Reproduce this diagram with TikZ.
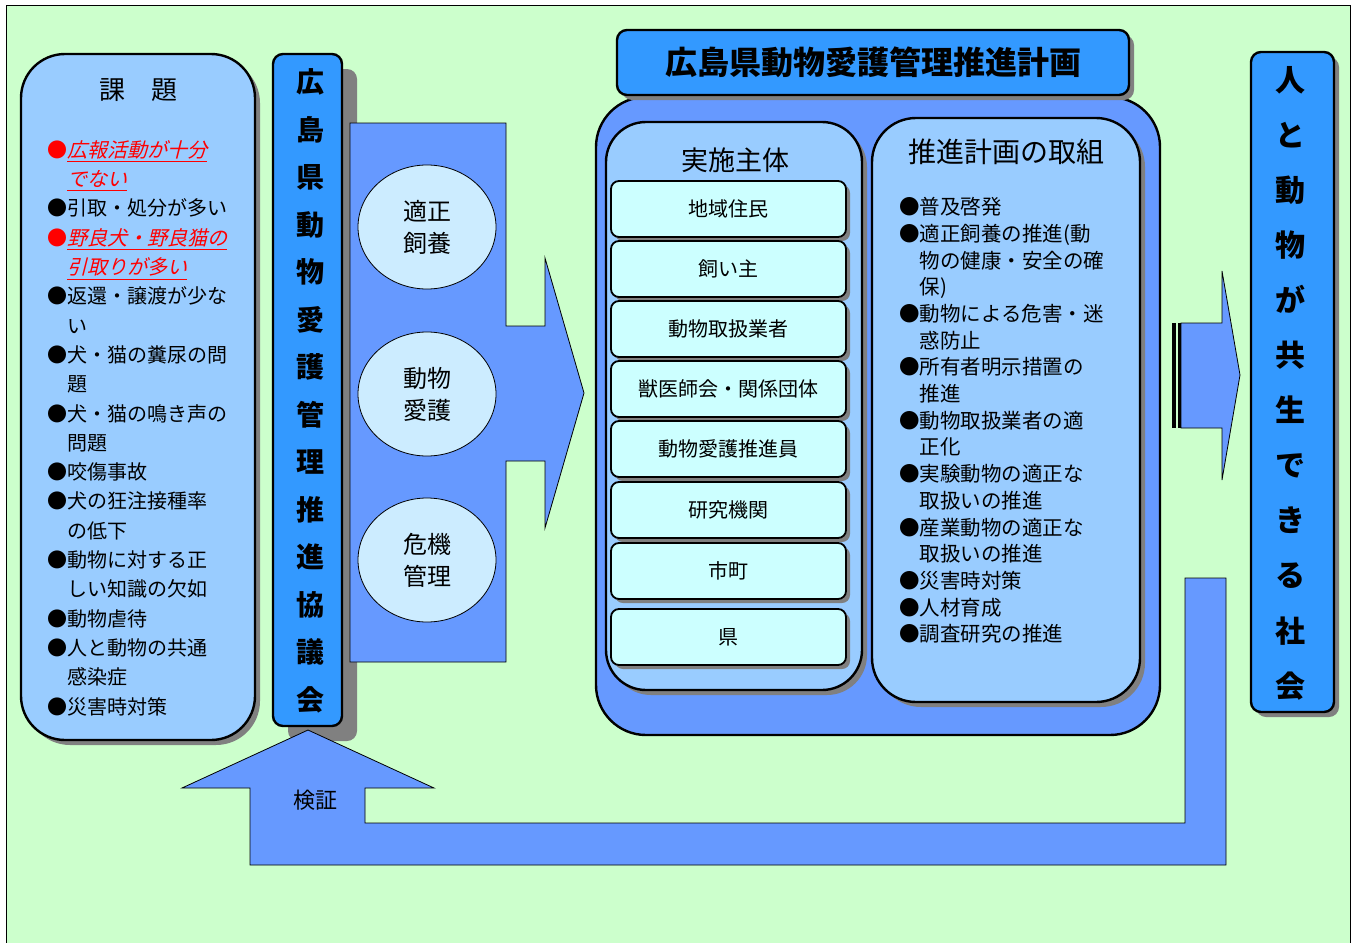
\documentclass[tikz,border=0pt]{standalone}
\usepackage{fontspec}
\setmainfont{Noto Sans CJK JP}
\newfontfamily\slantjp{Noto Sans CJK JP}[FakeSlant=0.25]
\usetikzlibrary{shadows,shapes.geometric}
\definecolor{bggreen}{HTML}{CCFFCC}
\definecolor{paleblue}{HTML}{99CCFF}
\definecolor{midblue}{HTML}{6699FF}
\definecolor{deepblue}{HTML}{3399FF}
\definecolor{ovalfill}{HTML}{CCECFF}
\definecolor{itemfill}{HTML}{CCFFFF}

\begin{document}
\begin{tikzpicture}[x=0.5pt, y=-0.5pt,
  shade/.style={drop shadow={shadow xshift=#1, shadow yshift=-#1, fill=gray, opacity=1}},
  panel/.style={draw, line width=1.2pt, fill=paleblue, rounded corners=21pt, shade=2.5pt},
  pillar/.style={draw, line width=1.2pt, fill=deepblue, rounded corners=5pt},
  oval/.style={draw, ellipse, fill=ovalfill, align=center, inner sep=0pt,
    minimum width=69pt, minimum height=62pt, font=\fontsize{12}{16}\selectfont},
  itembox/.style={draw, line width=0.9pt, fill=itemfill, rounded corners=4pt, shade=2pt,
    minimum width=117.5pt, minimum height=28pt, font=\fontsize{10}{12}\selectfont},
  bigarrow/.style={draw, fill=midblue, line join=miter},
  listtext/.style={align=left, inner sep=0pt, anchor=north west},
  title/.style={font=\fontsize{13}{15}\selectfont}]
\useasboundingbox (0,0) rectangle (1354,942);
\fill[white] (0,0) rectangle (1354,942);
\draw[fill=bggreen] (6,5) rectangle (1350,960);

% 課題
\node[panel, rounded corners=22pt, minimum width=117pt, minimum height=343pt] (kadaiBox) at (138,397) {};
\node[title] (kadaiTitle) at (138,90) {課　題};
\node[listtext, font=\fontsize{10}{14.65}\selectfont] (kadaiList) at (47,140) {%
{\color{red}●\slantjp\underline{広報活動が十分}}\\
{\color{red}\phantom{●}\slantjp\underline{でない}}\\
●引取・処分が多い\\
{\color{red}●\slantjp\underline{野良犬・野良猫の}}\\
{\color{red}\phantom{●}\slantjp\underline{引取りが多い}}\\
●返還・譲渡が少な\\
\phantom{●}い\\
●犬・猫の糞尿の問\\
\phantom{●}題\\
●犬・猫の鳴き声の\\
\phantom{●}問題\\
●咬傷事故\\
●犬の狂注接種率\\
\phantom{●}の低下\\
●動物に対する正\\
\phantom{●}しい知識の欠如\\
●動物虐待\\
●人と動物の共通\\
\phantom{●}感染症\\
●災害時対策};

% 協議会
\node[pillar, shade=7.5pt, minimum width=34.5pt, minimum height=336pt] (kyogikaiBox) at (307.5,390) {};
\node[align=center, font=\fontsize{14}{23.75}\bfseries] (kyogikai) at (310,391)
  {広\\島\\県\\動\\物\\愛\\護\\管\\理\\推\\進\\協\\議\\会};

% 三本柱の矢印
\draw[bigarrow] (350,123) -- (506,123) -- (506,326) -- (545,326) -- (545,258) -- (584,393)
  -- (545,528) -- (545,461) -- (506,461) -- (506,662) -- (350,662) -- cycle;
\node[oval] (tekisei) at (427,227) {適正\\飼養};
\node[oval] (aigo) at (427,394) {動物\\愛護};
\node[oval] (kiki) at (427,560) {危機\\管理};

% 推進計画
\node[draw, line width=1.2pt, fill=midblue, rounded corners=25pt, minimum width=282pt, minimum height=319pt] (planBox) at (878,416) {};
\node[pillar, shade=2.5pt, minimum width=256pt, minimum height=32.5pt,
  font=\fontsize{16}{18}\bfseries] (planTitle) at (873,62.5) {広島県動物愛護管理推進計画};

\node[panel, rounded corners=20pt, minimum width=128pt, minimum height=284pt] (shutaiBox) at (734,406) {};
\node[title, font=\fontsize{13.5}{15}\selectfont] (shutaiTitle) at (735,160) {実施主体};
\node[itembox] (juumin) at (728.5,209) {地域住民};
\node[itembox] (kainushi) at (728.5,269) {飼い主};
\node[itembox] (toriatsukai) at (728.5,329) {動物取扱業者};
\node[itembox] (juui) at (728.5,389) {獣医師会・関係団体};
\node[itembox] (suishinin) at (728.5,449) {動物愛護推進員};
\node[itembox] (kenkyu) at (728.5,510) {研究機関};
\node[itembox] (shicho) at (728.5,571) {市町};
\node[itembox] (ken) at (728.5,637) {県};

\node[panel, rounded corners=22pt, minimum width=134pt, minimum height=292pt] (torikumiBox) at (1006,410) {};
\node[title, font=\fontsize{14}{16}\selectfont] (torikumiTitle) at (1006,152) {推進計画の取組};
\node[listtext, font=\fontsize{10.25}{13.35}\selectfont] (torikumiList) at (899,197) {%
●普及啓発\\
●適正飼養の推進(動\\
\phantom{●}物の健康・安全の確\\
\phantom{●}保)\\
●動物による危害・迷\\
\phantom{●}惑防止\\
●所有者明示措置の\\
\phantom{●}推進\\
●動物取扱業者の適\\
\phantom{●}正化\\
●実験動物の適正な\\
\phantom{●}取扱いの推進\\
●産業動物の適正な\\
\phantom{●}取扱いの推進\\
●災害時対策\\
●人材育成\\
●調査研究の推進};

% 社会へ
\draw[bigarrow] (1181,323) -- (1222,323) -- (1222,271) -- (1240,375) -- (1222,480)
  -- (1222,428) -- (1181,428) -- cycle;
\fill (1172,323) rectangle (1176,428);
\fill (1178,323) rectangle (1181,428);
\node[pillar, shade=2.5pt, minimum width=41.5pt, minimum height=330pt] (shakaiBox) at (1292.5,382) {};
\node[align=center, font=\fontsize{15}{27.55}\bfseries] (shakai) at (1290,383)
  {人\\と\\動\\物\\が\\共\\生\\で\\き\\る\\社\\会};

% 検証
\draw[bigarrow] (1185,578) -- (1226,578) -- (1226,865) -- (250,865) -- (250,788) -- (182,788)
  -- (308,730) -- (434,788) -- (365,788) -- (365,823) -- (1185,823) -- cycle;
\node[font=\fontsize{11}{13}\selectfont] (kensho) at (315,800) {検証};
\end{tikzpicture}
\end{document}
